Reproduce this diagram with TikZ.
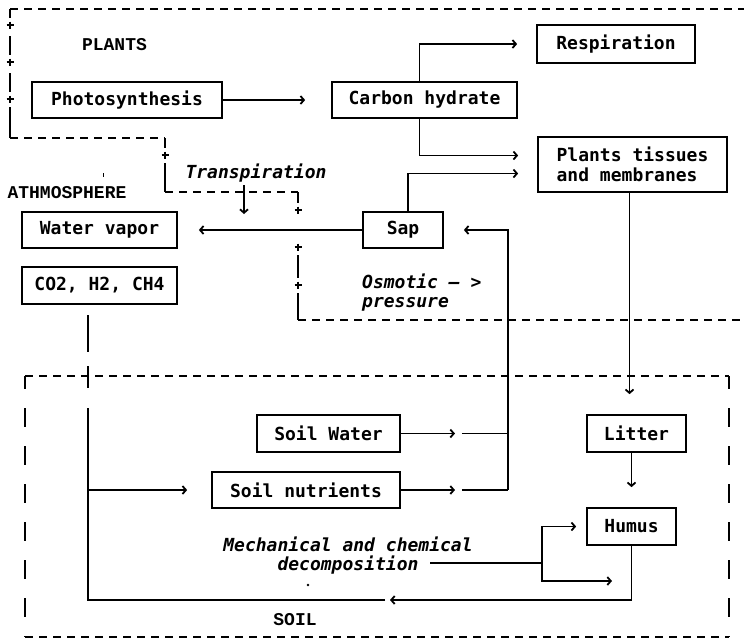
\documentclass[tikz,border=0pt]{standalone}
\usepackage{fontspec}
\newfontfamily\boxfont{DejaVu Sans Mono}
\newfontfamily\labfont{Liberation Mono}
\usetikzlibrary{arrows.meta}
\begin{document}
\begin{tikzpicture}[x=1pt,y=-1pt,
  box/.style={draw,line width=1.7pt,inner sep=0pt,font=\boxfont\bfseries\fontsize{18}{20}\selectfont},
  lab/.style={inner sep=0pt,font=\labfont\bfseries\fontsize{18}{20}\selectfont},
  ital/.style={inner sep=0pt,font=\boxfont\bfseries\itshape\fontsize{18}{19}\selectfont},
  line/.style={line width=1.8pt},
  bline/.style={line width=1.6pt},
  conn/.style={line width=1.8pt,-{Straight Barb[length=3.5pt,width=8pt]}},
  hdash/.style={line width=1.5pt,dash pattern=on 8pt off 6pt},
  vdash/.style={line width=1.8pt,dash pattern=on 19pt off 19pt,dash phase=6pt},
  pm/.pic={\draw[line width=1.5pt] (-3.5,0)--(3.5,0) (0,-3.5)--(0,3.5);}
]
\fill[white] (0,0) rectangle (744,641);
\useasboundingbox (0,0) rectangle (744,641);

% ---------- boxes ----------
\node[box,minimum width=190pt,minimum height=36pt] (photo) at (127,100) {Photosynthesis};
\node[box,minimum width=185pt,minimum height=36pt] (carb) at (424.5,100) {Carbon hydrate};
\node[box,minimum width=158pt,minimum height=38pt] (resp) at (616,44) {Respiration};
\node[box,minimum width=189pt,minimum height=55pt,align=left] (tissues) at (632.5,164.5) {Plants tissues\\and membranes};
\node[box,minimum width=80pt,minimum height=36pt] (sap) at (403,230) {Sap};
\node[box,minimum width=155pt,minimum height=36pt] (wv) at (99.5,230) {Water vapor};
\node[box,minimum width=155pt,minimum height=37pt] (co2) at (99.5,285.5) {CO2, H2, CH4};
\node[box,minimum width=143pt,minimum height=37pt] (sw) at (328.5,433.5) {Soil Water};
\node[box,minimum width=188pt,minimum height=36pt] (sn) at (306,490) {Soil nutrients};
\node[box,minimum width=99pt,minimum height=37pt] (litter) at (636.5,433.5) {Litter};
\node[box,minimum width=89pt,minimum height=37pt] (humus) at (631.5,526.5) {Humus};

% ---------- labels ----------
\node[lab] (plants) at (114.5,45) {PLANTS};
\node[lab] (athm) at (67,193) {ATHMOSPHERE};
\node[lab] (soil) at (295,620) {SOIL};
\node[ital] (transp) at (256,173) {Transpiration};
\node[ital,anchor=north west,align=left] (osm) at (362,274) {Osmotic — >\\pressure};
\node[ital,anchor=north,align=center] (mech) at (348,537) {Mechanical and chemical\\decomposition};

% ---------- plants boundary ----------
\draw[hdash] (10,9) -- (744,9);
\draw[bline] (10,9) -- (10,18);
\draw[bline] (10,36) -- (10,55);
\draw[bline] (10,73) -- (10,92);
\draw[bline] (10,107) -- (10,138);
\pic at (10,25) {pm};
\pic at (10,62) {pm};
\pic at (10,99) {pm};
\draw[hdash] (10,138) -- (165,138);
\draw[bline] (165,138) -- (165,148);
\pic at (165,155) {pm};
\draw[bline] (165,163) -- (165,192);
\draw[hdash] (165,192) -- (298,192);
\draw[bline] (298,192) -- (298,203);
\pic at (298,210) {pm};
\pic at (298,247) {pm};
\draw[bline] (298,255) -- (298,278);
\pic at (298,285) {pm};
\draw[bline] (298,293) -- (298,320);
\draw[hdash] (298,320) -- (744,320);

% transpiration arrow
\coordinate (tr1) at (244,185);
\coordinate (tr2) at (244,214);
\draw[conn] (tr1) -- (tr2);

% ---------- soil boundary ----------
\draw[hdash] (25,376) -- (729,376);
\draw[hdash] (25,637) -- (729,637);
\draw[vdash] (25,376) -- (25,637);
\draw[vdash] (729,376) -- (729,637);

% ---------- connectors ----------
\draw[conn,shorten >=26pt] (photo.east) -- (photo.east -| carb.west);
\draw[conn,shorten >=19pt] ([xshift=-5pt]carb.north) |- (resp.west);
\draw[conn,shorten >=19pt] ([xshift=-5pt]carb.south) |- ([yshift=9pt]tissues.west);
\draw[conn,shorten >=19pt] ([xshift=5pt]sap.north) |- ([yshift=-9pt]tissues.west);
\draw[conn,shorten >=21pt] (sap.west) -- (wv.east);

\coordinate (riser) at (508,490);
\draw[conn,shorten >=53pt] (sw.east) -- (sw.east -| riser);
\draw[line,shorten <=61pt] (sw.east) -- (sw.east -| riser);
\draw[conn,shorten >=53pt] (sn.east) -- (sn.east -| riser);
\draw[line,shorten <=61pt] (sn.east) -- (riser);
\draw[conn,shorten >=20pt] (riser) |- (sap.east);

\draw[conn,shorten >=20pt] ([xshift=-3pt]tissues.south) -- ([xshift=-3pt]tissues.south |- litter.north);
\draw[conn,shorten >=20pt] (litter.south -| humus.north) -- (humus.north);

\coordinate (v0) at (88,315);
\coordinate (v1) at (88,352);
\coordinate (v2) at (88,366);
\coordinate (v3) at (88,388);
\coordinate (v4) at (88,408);
\coordinate (ret) at (88,600);
\coordinate (retm) at (390,600);
\draw[line] (v0) -- (v1);
\draw[line] (v2) -- (v3);
\draw[conn] (humus.south) |- (retm);
\draw[line] ([xshift=-5pt]retm) -- (ret) -- (v4);
\draw[conn,shorten >=24pt] (ret |- sn.west) -- (sn.west);

\coordinate (bs) at (430,563);
\coordinate (br) at (542,563);
\coordinate (brl) at (612,581);
\draw[line] (bs) -- (br);
\draw[conn,shorten >=10pt] (br) |- (humus.west);
\draw[conn] (br) |- (brl);

% small marks
\draw[line width=1pt] (103,173) -- (103,177);
\fill (308,585) circle (1.4pt);
\end{tikzpicture}
\end{document}
